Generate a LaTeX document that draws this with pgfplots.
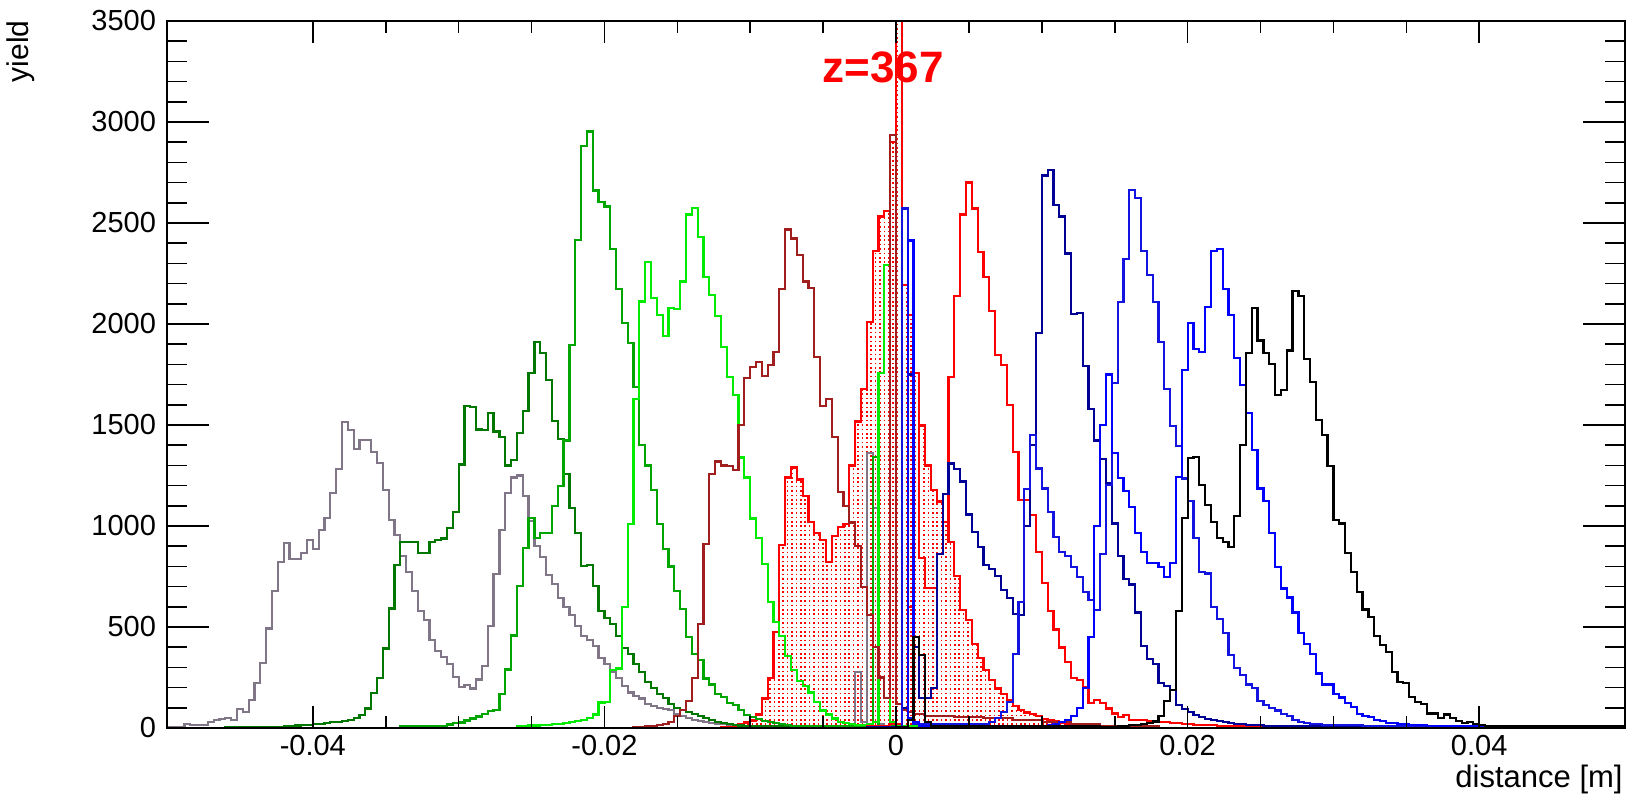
\documentclass[border=0pt]{standalone}
\usepackage{fontspec}
\setmainfont{Liberation Sans}
\usepackage{pgfplots}
\pgfplotsset{compat=1.18}
\usetikzlibrary{patterns}
\pgfdeclarepatternformonly{rdots}{\pgfqpoint{-0.5pt}{-0.5pt}}{\pgfqpoint{0.5pt}{0.5pt}}{\pgfqpoint{2.2pt}{2.2pt}}{\pgfpathrectangle{\pgfqpoint{-0.4pt}{-0.4pt}}{\pgfqpoint{0.8pt}{0.8pt}}\pgfusepath{fill}}
\definecolor{cgray}{RGB}{128,118,135}
\definecolor{cdkgreen}{RGB}{0,120,0}
\definecolor{cmdgreen}{RGB}{0,165,0}
\definecolor{cltgreen}{RGB}{0,235,0}
\definecolor{cdkred}{RGB}{160,30,30}
\definecolor{cred}{RGB}{255,0,0}
\definecolor{cdkblue}{RGB}{0,0,150}
\definecolor{cmdblue}{RGB}{20,20,225}
\definecolor{cblue}{RGB}{0,0,255}
\pgfplotsset{
  common/.style={
    at={(0,0)}, anchor=south west,
    scale only axis, width=729pt, height=353.5pt,
    xmin=0, xmax=250, ymin=0, ymax=3500,
    tick align=inside,
    axis line style={line width=1pt},
    every tick/.style={black, line width=0.8pt},
    tick label style={font=\fontsize{14.5}{17}\selectfont},
  }
}
\begin{document}
\begin{tikzpicture}
\path[use as bounding box] (-83.5pt,-35.5pt) rectangle (734.5pt,364pt);
\begin{axis}[
  common,
  xtick=\empty,
  ytick={0,500,1000,1500,2000,2500,3000,3500},
  yticklabels={0,500,1000,1500,2000,2500,3000,3500},
  yticklabel style={xshift=-2pt},
  minor y tick num=4,
  major tick length=21pt, minor tick length=10pt,
  clip=true,
  const plot, no markers,
  every axis plot/.append style={line width=1.1pt},
]
\node[text=red, font=\bfseries\fontsize{22}{26}\selectfont, anchor=base] at (axis cs:122.8,3198) {z=367};
% z=367 filled histogram
\addplot[draw=cred, pattern=rdots, pattern color=red] coordinates {(95,0)(95,5)(96,8)(97,12)(98,17)(99,27)(100,37)(101,67)(102,146)(103,246)(104,474)(105,906)(106,1240)(107,1290)(108,1230)(109,1150)(110,1021)(111,966)(112,932)(113,822)(114,951)(115,997)(116,1010)(117,1300)(118,1517)(119,1677)(120,2010)(121,2360)(122,2532)(123,2560)(124,2900)(125,5000)(126,2194)(127,2045)(128,1757)(129,1498)(130,1300)(131,1180)(132,1121)(133,1021)(134,922)(135,753)(136,584)(137,534)(138,415)(139,345)(140,286)(141,236)(142,196)(143,170)(144,140)(145,110)(146,90)(147,77)(148,70)(149,60)(150,45)(151,40)(152,35)(153,25)(154,20)(155,15)(156,10)(160,5)(165,0)} \closedcycle;
% gray
\addplot[cgray] coordinates {(0,0)(0,5)(3,18)(4,15)(7,30)(8,40)(9,46)(10,50)(11,40)(12,96)(13,80)(14,139)(15,224)(16,323)(17,493)(18,680)(19,823)(20,917)(21,835)(22,835)(23,865)(24,930)(25,885)(26,980)(27,1038)(28,1162)(29,1282)(30,1516)(31,1475)(32,1380)(33,1425)(34,1425)(35,1368)(36,1310)(37,1178)(38,1029)(39,955)(40,852)(41,773)(42,679)(43,580)(44,534)(45,435)(46,381)(47,351)(48,315)(49,252)(50,202)(51,212)(52,196)(53,240)(54,306)(55,504)(56,763)(57,981)(58,1164)(59,1240)(60,1250)(61,1150)(62,1025)(63,902)(64,846)(65,759)(66,713)(67,643)(68,600)(69,560)(70,504)(71,455)(72,435)(73,405)(74,345)(75,315)(76,276)(77,246)(78,206)(79,176)(80,160)(81,146)(82,120)(83,110)(84,100)(85,95)(86,90)(87,70)(88,60)(89,50)(90,40)(91,35)(92,30)(93,25)(94,20)(95,18)(96,15)(98,12)(99,10)(102,8)(117,15)(118,279)(119,30)(120,1360)(121,1090)(122,20)(123,10)(124,8)(126,5)(129,0)};
% dark green
\addplot[cdkgreen] coordinates {(10,0)(10,5)(20,10)(22,12)(23,15)(25,18)(26,20)(27,23)(28,28)(29,31)(30,36)(31,40)(32,48)(33,64)(34,97)(35,172)(36,246)(37,394)(38,592)(39,807)(40,922)(43,866)(45,922)(46,932)(47,938)(48,991)(49,1071)(50,1304)(51,1594)(52,1588)(53,1478)(54,1474)(55,1558)(56,1468)(57,1439)(58,1300)(59,1325)(60,1459)(61,1568)(62,1757)(63,1912)(64,1856)(65,1721)(66,1518)(67,1429)(68,1256)(69,1091)(70,966)(71,803)(72,807)(73,703)(74,580)(75,544)(76,514)(77,455)(78,395)(79,365)(80,315)(81,276)(82,226)(83,200)(84,170)(85,150)(86,120)(87,100)(88,90)(89,80)(90,70)(91,60)(92,50)(93,40)(94,30)(95,25)(96,20)(97,15)(98,12)(99,10)(100,8)(120,0)};
% medium green
\addplot[cmdgreen] coordinates {(40,0)(40,10)(48,17)(49,23)(50,27)(51,37)(52,47)(53,57)(54,71)(55,83)(56,91)(57,170)(58,290)(59,458)(60,703)(61,892)(62,1041)(63,942)(64,966)(66,1101)(67,1200)(68,1423)(69,1896)(70,2417)(71,2880)(72,2953)(73,2661)(74,2602)(75,2582)(76,2373)(77,2174)(78,2005)(79,1906)(80,1687)(81,1400)(82,1300)(83,1180)(84,1010)(85,885)(86,800)(87,680)(88,590)(89,450)(90,365)(91,335)(92,245)(93,215)(94,170)(95,155)(96,125)(97,115)(98,90)(99,65)(100,55)(101,45)(102,35)(103,30)(104,25)(105,20)(106,15)(107,10)(121,1340)(122,10)(130,0)};
% light green
\addplot[cltgreen] coordinates {(60,0)(60,10)(62,12)(64,15)(66,20)(68,25)(69,30)(70,35)(71,40)(72,50)(73,67)(74,126)(75,130)(76,286)(77,295)(78,600)(79,1011)(80,1627)(81,2111)(82,2307)(83,2130)(84,2045)(85,1940)(86,2081)(87,2075)(88,2210)(89,2542)(90,2576)(91,2429)(92,2234)(93,2144)(94,2039)(95,1886)(96,1737)(97,1647)(98,1339)(99,1240)(100,1037)(101,942)(102,812)(103,624)(104,524)(105,455)(106,355)(107,286)(108,232)(109,206)(110,176)(111,127)(112,87)(113,67)(114,47)(115,30)(116,25)(117,20)(118,15)(120,20)(121,30)(122,1757)(123,2293)(124,30)(125,15)(126,10)(135,0)};
% dark red
\addplot[cdkred] coordinates {(80,0)(80,5)(82,10)(84,15)(85,20)(86,30)(87,60)(88,90)(89,132)(90,246)(91,514)(92,912)(93,1256)(94,1319)(95,1300)(96,1296)(97,1276)(98,1502)(99,1733)(100,1787)(101,1812)(102,1741)(103,1796)(104,1860)(105,2174)(106,2468)(107,2423)(108,2343)(109,2210)(110,2178)(111,1836)(112,1594)(113,1628)(114,1439)(115,1170)(116,1101)(117,1017)(118,902)(119,699)(120,560)(121,400)(122,250)(123,150)(124,2934)(125,120)(126,90)(127,80)(128,70)(130,60)(135,55)(140,50)(145,40)(150,30)(155,20)(160,10)(170,0)};
% red outline
\addplot[cred] coordinates {(120,0)(120,10)(124,20)(126,100)(127,600)(128,1757)(129,842)(130,693)(132,860)(133,1021)(134,1737)(135,2138)(136,2542)(137,2701)(138,2572)(139,2357)(140,2234)(141,2065)(142,1846)(143,1797)(144,1598)(145,1368)(146,1129)(148,1054)(149,873)(150,719)(151,581)(152,488)(153,399)(154,328)(155,246)(156,238)(157,201)(158,122)(159,138)(160,122)(161,97)(162,72)(163,56)(164,64)(165,40)(167,38)(168,35)(169,30)(171,28)(172,25)(174,20)(176,15)(180,10)(190,0)};
% dark blue
\addplot[cdkblue] coordinates {(120,0)(120,5)(126,100)(127,1750)(128,400)(129,150)(131,200)(132,860)(133,1160)(134,1309)(135,1284)(136,1220)(137,1057)(138,971)(139,898)(140,806)(141,787)(142,753)(143,683)(144,643)(145,564)(146,560)(147,1000)(148,1400)(149,1956)(150,2735)(151,2761)(152,2588)(153,2532)(154,2349)(155,2049)(156,2055)(157,1792)(158,1578)(159,1423)(160,1330)(161,1210)(162,1012)(163,851)(164,737)(165,710)(166,572)(167,407)(168,343)(169,316)(170,224)(171,206)(172,188)(173,115)(174,96)(175,80)(176,65)(177,55)(178,45)(179,40)(180,35)(181,30)(182,25)(183,20)(185,15)(188,10)(200,5)(210,0)};
% blue (peak 0.016)
\addplot[cmdblue] coordinates {(125,0)(125,5)(126,2572)(127,50)(128,20)(141,30)(142,50)(143,80)(144,130)(145,365)(146,624)(147,1184)(148,1450)(149,1285)(150,1186)(151,1071)(152,947)(153,873)(154,851)(155,799)(156,749)(157,675)(158,634)(159,584)(160,861)(161,1203)(162,1708)(163,2107)(164,2321)(165,2663)(166,2623)(167,2363)(168,2244)(169,2107)(170,1909)(171,1680)(172,1497)(173,1396)(174,1235)(175,1125)(176,939)(177,774)(178,765)(179,600)(180,539)(181,472)(182,362)(183,298)(184,261)(185,215)(186,197)(187,133)(188,115)(189,100)(190,87)(191,69)(192,60)(193,41)(194,30)(195,25)(196,20)(198,15)(205,10)(230,5)(250,0)};
% blue (peak 0.022)
\addplot[cblue] coordinates {(125,0)(125,5)(127,2413)(128,30)(129,10)(151,15)(152,20)(153,30)(154,40)(155,60)(156,100)(157,200)(158,450)(159,1000)(160,1500)(161,1750)(162,1360)(163,1236)(164,1175)(165,1096)(166,967)(167,873)(168,815)(169,818)(170,799)(171,749)(172,815)(173,1244)(174,1772)(175,2006)(176,1878)(177,1863)(178,2083)(179,2363)(180,2370)(181,2174)(182,2046)(183,1832)(184,1698)(185,1561)(186,1378)(187,1186)(188,1122)(189,966)(190,796)(191,691)(192,646)(193,572)(194,472)(195,417)(196,367)(197,270)(198,215)(200,170)(201,151)(202,124)(203,105)(204,69)(205,60)(206,55)(207,40)(208,35)(209,26)(210,25)(211,20)(213,15)(216,10)(250,0)};
% black
\addplot[black] coordinates {(125,0)(125,5)(127,40)(128,452)(129,361)(130,30)(131,10)(160,5)(163,10)(165,15)(167,20)(168,25)(169,32)(170,60)(171,133)(172,188)(173,581)(174,1039)(175,1338)(176,1341)(177,1204)(178,1103)(179,1021)(180,942)(181,920)(182,898)(183,1048)(184,1402)(185,1858)(186,2079)(187,1918)(188,1858)(189,1803)(190,1649)(191,1675)(192,1869)(193,2165)(194,2138)(195,1827)(196,1711)(197,1524)(198,1451)(199,1296)(200,1030)(201,1012)(202,865)(203,774)(204,675)(205,587)(206,548)(207,455)(208,411)(209,378)(210,279)(211,229)(212,221)(213,155)(214,130)(215,119)(216,72)(218,48)(219,67)(220,48)(221,35)(222,26)(223,31)(224,20)(225,15)(226,10)(250,0)};
\end{axis}
\begin{axis}[
  common,
  ytick=\empty,
  xtick={25,75,125,175,225}, xticklabels={-0.04,-0.02,0,0.02,0.04},
  minor x tick num=3,
  major tick length=11pt, minor tick length=6pt,
]
\end{axis}
\node[rotate=90, anchor=south east, inner sep=0pt, font=\fontsize{15}{18}\selectfont] at (-66pt,354pt) {yield};
\node[anchor=base east, inner sep=0pt, font=\fontsize{15.5}{18}\selectfont] at (728pt,-29.5pt) {distance [m]};
\end{tikzpicture}
\end{document}
